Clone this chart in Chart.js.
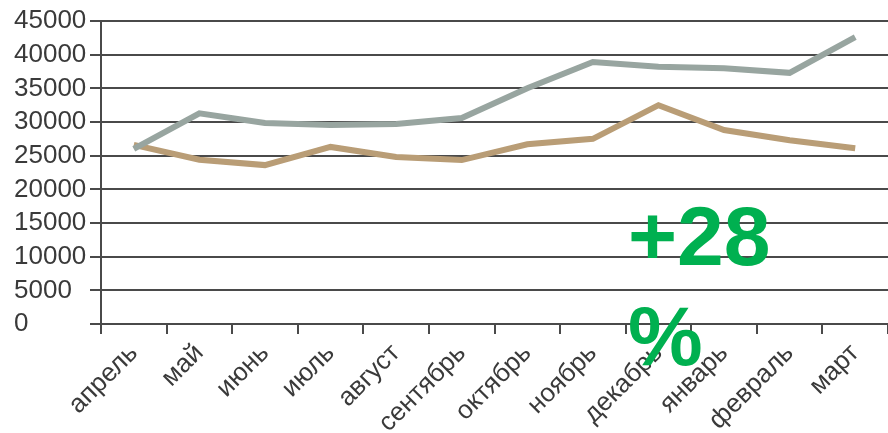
<!DOCTYPE html>
<html>
<head>
<meta charset="utf-8">
<script src="https://cdn.jsdelivr.net/npm/chart.js@4/dist/chart.umd.min.js"></script>
<style>
  html, body { margin: 0; padding: 0; background: #fff; }
  #wrap { position: relative; width: 888px; height: 433px; }
  #note {
    position: absolute; left: 628px; top: 186px; width: 160px;
    font-family: "Liberation Sans", Arial, sans-serif; font-weight: bold;
    font-size: 84px; line-height: 100px; color: #00b050;
  }
</style>
</head>
<body>
<div id="wrap">
  <canvas id="chart" width="888" height="433"></canvas>
  <div id="note">+28 %</div>
</div>
<script>
  // Months (April to March)
  const months = ['апрель', 'май', 'июнь', 'июль', 'август', 'сентябрь', 'октябрь', 'ноябрь', 'декабрь', 'январь', 'февраль', 'март'];

  // Series values
  const greySeries = [26000, 31300, 29850, 29550, 29700, 30600, 35000, 38900, 38200, 38000, 37300, 42600];
  const brownSeries = [26600, 24400, 23600, 26300, 24800, 24350, 26700, 27500, 32500, 28800, 27300, 26100];

  // Y axis range
  const yMin = 0;
  const yMax = 45000;
  const yStep = 5000;

  document.addEventListener('DOMContentLoaded', function() {
    const ctx = document.getElementById('chart').getContext('2d');

    new Chart(ctx, {
      type: 'line',
      data: {
        labels: months,
        datasets: [
          {
            label: 'grey',
            data: greySeries,
            borderColor: '#98a5a0',
            borderWidth: 6,
            pointRadius: 0,
            tension: 0
          },
          {
            label: 'brown',
            data: brownSeries,
            borderColor: '#b99d76',
            borderWidth: 6,
            pointRadius: 0,
            tension: 0
          }
        ]
      },
      options: {
        responsive: false,
        animation: false,
        layout: { padding: { top: 21, left: 14, right: 0, bottom: 0 } },
        plugins: {
          legend: { display: false },
          tooltip: { enabled: false }
        },
        scales: {
          x: {
            offset: true,
            grid: {
              offset: true,
              drawOnChartArea: false,
              drawTicks: true,
              tickLength: 10,
              color: '#4a4a4a',
              lineWidth: 2
            },
            border: { display: true, color: '#4a4a4a', width: 2 },
            ticks: {
              maxRotation: 45,
              minRotation: 45,
              autoSkip: false,
              padding: 4,
              color: '#3a3a3a',
              font: { family: '"Liberation Sans", Arial, sans-serif', size: 26 }
            },
            afterFit: function(scale) { scale.height = 109; }
          },
          y: {
            min: yMin,
            max: yMax,
            grid: {
              color: '#4a4a4a',
              lineWidth: 2,
              tickLength: 11
            },
            border: { display: true, color: '#4a4a4a', width: 2 },
            ticks: {
              stepSize: yStep,
              autoSkip: false,
              crossAlign: 'far',
              padding: 4,
              color: '#3a3a3a',
              font: { family: '"Liberation Sans", Arial, sans-serif', size: 26 },
              callback: function(value) { return String(value); }
            },
            afterFit: function(scale) { scale.width = 87; }
          }
        }
      }
    });
  });
</script>
</body>
</html>
